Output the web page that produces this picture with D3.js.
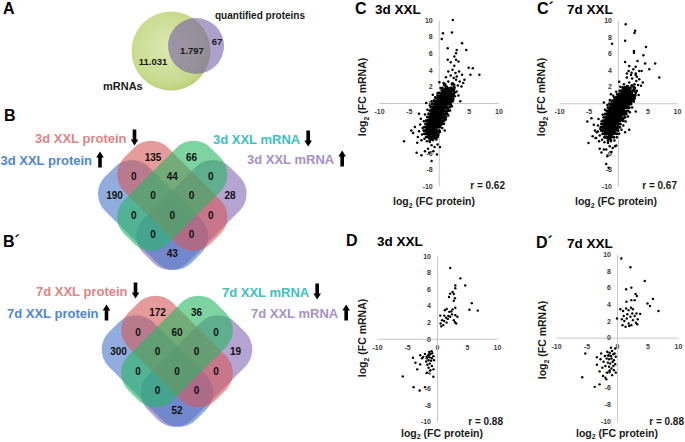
<!DOCTYPE html>
<html><head><meta charset="utf-8">
<script src="https://cdn.jsdelivr.net/npm/d3@7"></script>
<style>
html,body{margin:0;padding:0;background:#fff;}
svg{display:block;font-family:"Liberation Sans",Arial,Helvetica,sans-serif;font-weight:bold;}
</style></head><body>
<svg id="fig" width="685" height="442"></svg>
<script>
// ================= DATA =================
// Panel A
const vennA_sets = ["mRNAs", "quantified proteins"];
const vennA_values = [11031, 1797, 67]; // mRNA only, both, protein only

// Panels B / B´ : region order
const vennRegions = ["R","G","BR","RG","GP","B","BRG","RGP","P","BG","BRGP","RP","BGP","BRP","BP"];
const venn3dValues = [135, 66, 0, 44, 0, 190, 0, 0, 28, 0, 0, 0, 0, 0, 43];
const venn7dValues = [172, 36, 0, 60, 0, 300, 0, 0, 19, 0, 0, 0, 0, 0, 52];
const venn3dLabels = ["3d XXL protein", "3d XXL protein", "3d XXL mRNA", "3d XXL mRNA"]; // B(up), R(down), G(down), P(up)
const venn7dLabels = ["7d XXL protein", "7d XXL protein", "7d XXL mRNA", "7d XXL mRNA"];
const vennDirections = ["up", "down", "down", "up"];

// Scatter axes
const xTicks = [-10, -5, 0, 5, 10];
const yTicks = [-10, -8, -6, -4, -2, 0, 2, 4, 6, 8, 10];
const scatterTitles = ["3d XXL", "7d XXL", "3d XXL", "7d XXL"];
const correlations = ["0.62", "0.67", "0.88", "0.88"];

// Panel C (3d, all) points [log2 FC protein, log2 FC mRNA]
const c3Core = [[1.3,1.9],[1.7,1.7],[2.1,1.8],[1.0,2.2],[2.3,2.3],[0.9,1.5],[1.3,1.4],[1.6,1.6],[2.0,1.4],[2.4,1.5],
[0.5,1.1],[0.8,1.3],[1.2,1.2],[1.5,1.0],[1.9,1.2],[2.2,1.0],[0.2,0.8],[0.6,0.9],[1.0,0.8],[1.3,0.9],[1.7,0.8],[2.0,0.7],
[-0.1,0.6],[0.3,0.5],[0.7,0.6],[1.0,0.5],[1.4,0.6],[1.8,0.5],[2.1,0.4],[-0.4,0.2],[0.0,0.3],[0.4,0.2],[0.7,0.1],[1.1,0.3],[1.5,0.2],[1.9,0.1],
[-0.7,-0.1],[-0.3,-0.2],[0.1,-0.1],[0.5,-0.2],[0.8,-0.1],[1.2,-0.2],[1.6,-0.1],[-0.9,-0.5],[-0.5,-0.4],[-0.2,-0.5],[0.2,-0.6],[0.6,-0.4],[1.0,-0.5],[1.4,-0.6],
[-1.1,-0.9],[-0.7,-0.8],[-0.3,-0.9],[0.0,-1.0],[0.4,-0.8],[0.8,-0.9],[1.2,-1.0],[-1.3,-1.3],[-0.9,-1.2],[-0.5,-1.3],[-0.2,-1.4],[0.2,-1.2],[0.6,-1.3],[1.0,-1.4],
[-1.5,-1.7],[-1.1,-1.6],[-0.7,-1.7],[-0.4,-1.8],[0.0,-1.6],[0.4,-1.7],[0.8,-1.8],[-1.7,-2.1],[-1.3,-2.0],[-0.9,-2.1],[-0.6,-2.2],[-0.2,-2.0],[0.2,-2.1],[0.5,-2.2],
[-1.8,-2.5],[-1.4,-2.4],[-1.1,-2.5],[-0.7,-2.6],[-0.4,-2.4],[0.0,-2.5],[0.3,-2.6],[-2.0,-2.9],[-1.6,-2.8],[-1.2,-2.9],[-0.9,-3.0],[-0.5,-2.8],[-0.2,-2.9],
[-2.1,-3.3],[-1.7,-3.2],[-1.3,-3.4],[-1.0,-3.3],[-0.6,-3.2],[-0.3,-3.4],[-2.0,-3.7],[-1.6,-3.8],[-1.2,-3.7],[-0.8,-3.6],[-0.5,-3.8],[-1.7,-4.1],[-1.3,-4.2],[-0.9,-4.0],[-0.6,-4.2],
[1.1,1.6],[1.5,1.3],[0.7,1.0],[1.1,1.0],[1.7,1.0],[0.4,0.7],[0.8,0.7],[1.2,0.7],[1.6,0.7],[0.1,0.4],[0.5,0.4],[0.9,0.3],[1.3,0.4],[1.7,0.3],[-0.2,0.0],[0.2,0.1],[0.6,0.0],[1.0,0.1],[1.4,0.0],
[-0.5,-0.3],[-0.1,-0.3],[0.3,-0.3],[0.7,-0.3],[1.1,-0.4],[-0.8,-0.7],[-0.4,-0.6],[0.0,-0.7],[0.4,-0.6],[0.8,-0.7],[-1.0,-1.1],[-0.6,-1.0],[-0.2,-1.1],[0.2,-1.0],[0.6,-1.1],
[-1.2,-1.5],[-0.8,-1.4],[-0.4,-1.5],[0.0,-1.4],[0.4,-1.5],[-1.4,-1.9],[-1.0,-1.8],[-0.6,-1.9],[-0.2,-1.8],[0.2,-1.9],[-1.6,-2.3],[-1.2,-2.2],[-0.8,-2.3],[-0.4,-2.2],[0.0,-2.3],
[-1.8,-2.7],[-1.4,-2.6],[-1.0,-2.7],[-0.6,-2.6],[-0.2,-2.7],[-1.9,-3.1],[-1.5,-3.0],[-1.1,-3.1],[-0.7,-3.0],[-1.8,-3.5],[-1.4,-3.5],[-1.0,-3.5],[-0.6,-3.5]];
const c3Fringe = [[0.6,1.8],[2.6,1.9],[0.5,1.5],[2.7,1.3],[0.1,1.2],[2.5,1.1],[-0.2,0.9],[2.4,0.8],[-0.5,0.6],[2.4,0.5],[-0.8,0.3],[2.3,0.2],[-1.1,-0.1],[2.0,-0.2],
[-1.3,-0.5],[1.8,-0.5],[-1.5,-0.9],[1.6,-0.9],[-1.7,-1.3],[1.4,-1.3],[-1.9,-1.7],[1.2,-1.7],[-2.1,-2.1],[0.9,-2.1],[-2.2,-2.5],[0.7,-2.5],[-2.4,-2.9],[0.2,-2.9],
[-2.5,-3.3],[0.1,-3.3],[-2.4,-3.7],[-0.1,-3.7],[-2.1,-4.1],[-0.2,-4.1],[-1.5,-4.5],[-1.0,-4.4]];
const c3Spread = [[2.6,2.2],[2.9,2.8],[1.6,2.6],[0.8,2.4],[2.5,3.0],[3.2,2.1],[1.2,3.1],[2.0,3.3],[2.8,3.6],[1.6,3.8],[3.5,2.6],[2.3,4.0],[3.0,3.2],[0.3,1.8],[-0.2,1.2],[-0.6,0.7],
[-1.2,0.2],[-1.5,-0.3],[2.7,0.8],[3.0,1.4],[2.6,1.7],[2.4,0.3],[2.2,-0.4],[1.9,-0.9],[1.6,-1.5],[1.2,-2.0],[0.9,-2.5],[0.6,-3.0],[0.2,-3.5],[-0.1,-3.9],[-2.5,-2.2],[-2.3,-1.4],
[-1.9,-0.8],[-2.7,-3.0],[-2.8,-3.8],[-2.4,-4.3],[-2.0,-4.6],[-1.5,-4.7],[-1.0,-4.5],[-0.4,-4.4],[-0.2,-5.0],[-0.7,-5.3],[-1.2,-5.1],[-3.1,-2.6],[-3.3,-3.4],[-2.9,-4.5],[-3.5,-4.1],
[-1.8,-5.5],[-0.9,-5.8],[-0.3,-6.2],[3.8,2.0],[4.1,2.4],[3.4,3.8],[1.0,-3.3],[-3.0,-1.9],[-2.1,0.0],[-1.0,1.0],[0.1,2.5],[3.3,0.9]];
const c3Outliers = [[2.35,10.0],[0.7,8.4],[2.2,8.5],[0.5,7.7],[3.9,7.2],[1.5,6.6],[3.0,6.4],[4.6,6.4],[2.9,6.0],[2.6,5.6],[2.9,5.2],[3.3,5.0],[1.5,5.2],[2.0,4.9],[5.0,4.25],[5.7,4.2],
[5.3,3.4],[6.8,3.4],[3.9,3.4],[4.3,2.8],[2.6,4.5],[-5.8,-4.6],[-3.7,-6.0],[-2.9,-6.3],[-2.3,-5.8],[-1.6,-6.0],[-4.3,-3.6],[-4.0,-2.9],[-4.6,-3.3],[-3.6,-4.8],[-1.2,-7.0],[0.2,-5.3],
[1.8,0.0],[3.6,0.2],[-3.3,-1.3]];

// Panel C´ (7d, all)
const c7Core = [[1.2,1.9],[1.6,2.0],[2.0,1.8],[2.4,2.1],[0.7,1.5],[1.1,1.6],[1.5,1.4],[1.9,1.5],[2.3,1.4],[2.7,1.6],[0.3,1.1],[0.7,1.2],[1.1,1.0],[1.5,1.1],[1.9,1.0],[2.3,1.1],[2.6,0.9],
[-0.2,0.7],[0.2,0.8],[0.6,0.6],[1.0,0.7],[1.4,0.8],[1.8,0.6],[2.2,0.7],[2.5,0.5],[-0.6,0.3],[-0.2,0.4],[0.2,0.2],[0.6,0.3],[1.0,0.4],[1.4,0.2],[1.8,0.3],[2.2,0.2],
[-1.0,-0.1],[-0.6,0.0],[-0.2,-0.2],[0.2,-0.1],[0.6,0.0],[1.0,-0.2],[1.4,-0.1],[1.8,-0.1],[-1.3,-0.5],[-0.9,-0.4],[-0.5,-0.6],[-0.1,-0.5],[0.3,-0.4],[0.7,-0.6],[1.1,-0.5],[1.5,-0.5],
[-1.5,-0.9],[-1.1,-1.0],[-0.7,-0.8],[-0.3,-0.9],[0.1,-1.0],[0.5,-0.8],[0.9,-0.9],[1.3,-1.0],[-1.8,-1.3],[-1.4,-1.2],[-1.0,-1.4],[-0.6,-1.3],[-0.2,-1.2],[0.2,-1.4],[0.6,-1.3],[1.0,-1.3],
[-2.0,-1.7],[-1.6,-1.8],[-1.2,-1.6],[-0.8,-1.7],[-0.4,-1.8],[0.0,-1.6],[0.4,-1.7],[0.8,-1.8],[-2.2,-2.1],[-1.8,-2.0],[-1.4,-2.2],[-1.0,-2.1],[-0.6,-2.0],[-0.2,-2.2],[0.2,-2.1],[0.5,-2.0],
[-2.4,-2.5],[-2.0,-2.6],[-1.6,-2.4],[-1.2,-2.5],[-0.8,-2.6],[-0.4,-2.4],[0.0,-2.5],[-2.5,-2.9],[-2.1,-2.8],[-1.7,-3.0],[-1.3,-2.9],[-0.9,-2.8],[-0.5,-3.0],[-0.1,-2.9],
[-2.4,-3.3],[-2.0,-3.4],[-1.6,-3.2],[-1.2,-3.3],[-0.8,-3.4],[-0.4,-3.2],[-2.2,-3.7],[-1.8,-3.6],[-1.4,-3.8],[-1.0,-3.7],[-0.6,-3.6],[-1.9,-4.1],[-1.5,-4.2],[-1.1,-4.0],
[1.4,1.7],[1.8,1.7],[0.9,1.3],[1.3,1.3],[1.7,1.3],[2.1,1.3],[0.5,0.9],[0.9,0.9],[1.3,0.9],[1.7,0.9],[2.1,0.9],[0.0,0.5],[0.4,0.5],[0.8,0.5],[1.2,0.5],[1.6,0.5],[2.0,0.4],
[-0.4,0.1],[0.0,0.1],[0.4,0.1],[0.8,0.1],[1.2,0.1],[1.6,0.1],[-0.8,-0.3],[-0.4,-0.3],[0.0,-0.3],[0.4,-0.3],[0.8,-0.3],[1.2,-0.3],[-1.1,-0.7],[-0.7,-0.7],[-0.3,-0.7],[0.1,-0.7],[0.5,-0.7],[0.9,-0.7],
[-1.3,-1.1],[-0.9,-1.1],[-0.5,-1.1],[-0.1,-1.1],[0.3,-1.1],[0.7,-1.1],[-1.6,-1.5],[-1.2,-1.5],[-0.8,-1.5],[-0.4,-1.5],[0.0,-1.5],[0.4,-1.5],[-1.8,-1.9],[-1.4,-1.9],[-1.0,-1.9],[-0.6,-1.9],[-0.2,-1.9],[0.2,-1.9],
[-2.0,-2.3],[-1.6,-2.3],[-1.2,-2.3],[-0.8,-2.3],[-0.4,-2.3],[-2.2,-2.7],[-1.8,-2.7],[-1.4,-2.7],[-1.0,-2.7],[-0.6,-2.7],[-2.2,-3.1],[-1.8,-3.1],[-1.4,-3.1],[-1.0,-3.1],[-0.6,-3.1],[-2.0,-3.5],[-1.6,-3.5],[-1.2,-3.5]];
const c7Fringe = [[0.8,1.9],[2.8,1.9],[0.3,1.5],[3.0,1.3],[-0.1,1.1],[2.9,1.0],[-0.6,0.7],[2.8,0.6],[-1.0,0.3],[2.6,0.3],[-1.4,-0.1],[2.2,-0.1],[-1.7,-0.5],[1.9,-0.5],
[-1.9,-0.9],[1.7,-0.9],[-2.2,-1.3],[1.4,-1.3],[-2.4,-1.7],[1.2,-1.7],[-2.6,-2.1],[0.9,-2.1],[-2.8,-2.5],[0.4,-2.5],[-2.9,-2.9],[0.3,-2.9],[-2.8,-3.3],[0.0,-3.3],
[-2.6,-3.7],[-0.2,-3.7],[-2.3,-4.1],[-0.7,-4.1],[-1.7,-4.5],[-1.2,-4.4]];
const c7Spread = [[2.8,2.3],[3.1,2.7],[1.9,2.5],[1.0,2.3],[2.4,3.0],[3.4,2.2],[1.5,3.1],[2.2,3.4],[3.0,3.6],[1.8,3.9],[3.6,2.9],[2.6,4.1],[3.2,3.2],[0.4,2.0],[-0.3,1.4],[-0.8,0.9],
[-1.4,0.4],[-1.8,-0.2],[2.9,0.9],[3.2,1.5],[2.8,1.8],[2.7,0.2],[2.4,-0.5],[2.0,-1.1],[1.7,-1.6],[1.3,-2.2],[0.9,-2.7],[0.6,-3.2],[0.2,-3.7],[-0.2,-4.1],[-2.8,-2.2],[-2.6,-1.4],
[-2.2,-0.8],[-3.0,-3.1],[-3.1,-3.9],[-2.7,-4.4],[-2.3,-4.7],[-1.7,-4.8],[-1.2,-4.6],[-0.6,-4.5],[-0.3,-5.1],[-0.9,-5.4],[-1.4,-5.2],[-3.4,-2.7],[-3.6,-3.5],[-3.2,-4.6],[-3.8,-4.2],
[-2.0,-5.6],[-1.1,-5.9],[3.9,2.1],[4.2,2.5],[3.6,3.9],[1.2,-3.5],[-3.3,-1.9],[-2.4,0.1],[-1.2,1.1],[0.2,2.6],[3.5,1.0],[-4.1,-2.6],[-3.9,-3.3]];
const c7Outliers = [[1.3,9.55],[2.9,8.75],[2.8,8.5],[1.2,7.55],[-1.0,7.2],[4.75,6.8],[2.7,6.3],[2.7,6.1],[4.3,5.8],[1.2,5.0],[3.3,5.1],[6.3,4.8],[4.6,4.8],[1.9,4.5],[3.0,4.4],[5.3,4.1],
[4.0,3.9],[7.0,3.1],[1.5,3.6],[2.3,3.7],[3.0,3.4],[-5.0,-4.8],[-2.8,-5.95],[-2.4,-5.6],[-3.1,-5.5],[-2.0,-7.35],[-1.6,-7.8],[-0.5,-5.2],[-3.7,-4.2],[-3.4,-3.4],[-5.2,-2.2],[-4.5,-1.8],
[1.9,-3.2],[3.0,-1.0],[-1.8,-6.4],[-4.3,-4.0]];

// Panel D (3d, regulated)
const d3Points = [[2.2,8.55],[3.9,7.3],[4.7,6.45],[3.05,6.45],[3.05,6.1],[2.6,5.65],[2.2,5.45],[2.8,5.4],[2.0,5.05],[3.0,4.9],[2.8,4.6],[5.8,4.3],[5.4,3.5],[6.8,3.4],
[3.05,3.75],[2.6,3.55],[1.6,3.6],[1.3,3.45],[2.05,3.25],[2.5,2.95],[3.05,2.85],[1.9,2.75],[1.2,2.8],[1.5,2.55],[2.2,2.65],[0.85,2.25],[1.2,2.15],[1.6,1.95],[0.6,1.85],[1.05,1.65],
[0.7,1.5],[2.8,2.25],[3.2,1.85],[3.0,2.0],[3.4,2.65],[0.55,2.8],[2.4,3.3],[1.8,2.4],
[-0.8,-1.75],[-1.1,-1.85],[-1.4,-1.95],[-1.6,-2.1],[-0.6,-2.1],[-1.2,-2.25],[-1.7,-2.35],[-0.85,-2.35],[-1.4,-2.6],[-1.0,-2.65],[-1.8,-2.75],[-1.2,-3.0],[-1.6,-3.15],[-0.85,-3.3],
[-1.4,-3.5],[-1.1,-3.8],[-1.7,-4.1],[-0.6,-3.7],[-2.0,-1.85],[-2.3,-2.2],[-4.0,-2.3],[-2.8,-2.0],[-2.5,-2.35],[-3.6,-2.9],[-2.8,-3.1],[-3.3,-3.7],[-5.7,-4.55],[-3.9,-5.85],
[-2.9,-6.25],[-2.0,-5.85],[-0.6,-4.6],[-0.9,-1.5],[-0.5,-2.6],[-1.3,-1.6]];

// Panel D´ (7d, regulated)
const d7Points = [[0.7,9.5],[2.2,8.45],[4.55,6.8],[1.5,5.8],[2.35,6.0],[3.05,5.25],[3.25,5.0],[2.35,4.5],[1.55,4.3],[2.9,4.5],[5.0,4.1],[5.4,3.8],[5.9,4.65],[6.8,3.2],[0.55,3.4],
[1.0,3.2],[1.5,3.5],[1.9,3.3],[2.3,3.6],[2.6,3.4],[3.2,2.9],[3.8,2.85],[0.0,2.3],[0.8,2.2],[1.2,2.0],[1.6,2.3],[1.9,1.7],[2.2,2.5],[2.6,2.1],[2.9,2.6],[3.1,1.8],[3.4,2.2],[2.0,1.4],
[1.4,1.3],[0.9,1.5],[2.35,1.5],[1.7,2.8],[2.5,2.9],[1.1,2.6],[3.3,1.6],
[-5.2,-1.9],[-3.3,-2.35],[-2.6,-1.9],[-3.3,-3.25],[-2.85,-4.05],[-5.7,-4.75],[-3.65,-5.9],[-2.85,-5.6],[-2.3,-4.6],[-1.75,-5.0],[-1.2,-4.0],[-0.6,-3.4],
[-1.6,-1.7],[-1.2,-1.8],[-0.8,-1.6],[-0.4,-1.9],[-1.4,-2.1],[-1.0,-2.2],[-0.6,-2.0],[-0.2,-2.3],[-1.7,-2.5],[-1.3,-2.6],[-0.9,-2.5],[-0.5,-2.7],[-1.5,-3.0],[-1.1,-3.1],
[-0.7,-2.9],[-0.3,-3.2],[-1.9,-3.4],[-1.3,-3.5],[-0.9,-3.7],[-0.5,-3.9],[-2.0,-2.2],[-2.2,-2.9],[-1.6,-4.2],[-0.8,-4.5],[-2.4,-3.6],[-0.3,-1.3],[-1.0,-1.2],[-2.7,-2.6],[-1.9,-4.8],[-0.2,-4.2]];

// ================= DRAWING =================
const svg = d3.select("#fig");
const defs = svg.append("defs");
const fmtDE = d3.formatLocale({decimal: ",", thousands: ".", grouping: [3], currency: ["", ""]}).format(",");

// ---- Panel letters
const letters = [["A",3,14],["B",4,121],["B´",3,247],["C",355,14],["C´",537,14],["D",346,246],["D´",536,248]];
svg.selectAll("text.letter").data(letters).join("text").attr("class","letter")
  .attr("x", d => d[1]).attr("y", d => d[2])
  .attr("font-size", 16).attr("fill", "#000").text(d => d[0]);

// ---- Panel A
const gA = svg.append("g");
const gradG = defs.append("radialGradient").attr("id","gradG").attr("cx","45%").attr("cy","45%").attr("r","60%");
gradG.append("stop").attr("offset","0%").attr("stop-color","#dce8b2");
gradG.append("stop").attr("offset","75%").attr("stop-color","#c8db8e");
gradG.append("stop").attr("offset","100%").attr("stop-color","#b7cd72");
const circlesA = [
  {cx:171, cy:51, r:39.5, fill:"url(#gradG)", op:1},
  {cx:196, cy:46, r:28, fill:"rgb(108,82,162)", op:0.55}
];
gA.selectAll("circle").data(circlesA).join("circle")
  .attr("cx", d=>d.cx).attr("cy", d=>d.cy).attr("r", d=>d.r)
  .attr("fill", d=>d.fill).attr("fill-opacity", d=>d.op);
const textsA = [
  {t: fmtDE(vennA_values[0]), x:153, y:62, s:9.5, a:"middle"},
  {t: fmtDE(vennA_values[1]), x:192, y:51, s:9.5, a:"middle"},
  {t: fmtDE(vennA_values[2]), x:217, y:42, s:9.5, a:"middle"},
  {t: vennA_sets[0], x:103, y:90, s:11, a:"start"},
  {t: vennA_sets[1], x:215, y:18.5, s:10, a:"start"}
];
gA.selectAll("text").data(textsA).join("text")
  .attr("x", d=>d.x).attr("y", d=>d.y).attr("dy", d=> d.a==="middle" ? "0.35em" : null)
  .attr("text-anchor", d=>d.a).attr("font-size", d=>d.s).attr("fill","#1a1a1a").text(d=>d.t);

// ---- Panels B / B´
const regionGrid = {R:[-1,-3],G:[1,-3],BR:[-2,-2],RG:[0,-2],GP:[2,-2],B:[-3,-1],BRG:[-1,-1],RGP:[1,-1],P:[3,-1],BG:[-2,0],BRGP:[0,0],RP:[2,0],BGP:[-1,1],BRP:[1,1],BP:[0,2]};
const setColors = {B:"rgb(72,118,200)", R:"rgb(214,88,88)", G:"rgb(38,184,98)", P:"rgb(132,102,178)"};
const labelColors = ["#4d86d8", "#e38383", "#3dbfbf", "#a591c9"];

function arrowPath(dir) {
  if (dir === "up") return "M-1.8,2.5 L-1.8,-7.5 L-3.8,-7.5 L0,-13.5 L3.8,-7.5 L1.8,-7.5 L1.8,2.5 Z";
  return "M-1.8,-13.5 L1.8,-13.5 L1.8,-3.5 L3.8,-3.5 L0,2.5 L-3.8,-3.5 L-1.8,-3.5 Z";
}

function drawVenn4(cx, cy, s, values, labels, labelPos) {
  const g = svg.append("g");
  const k = s / 19.25;
  const L = 122 * k, W = 62 * k, rr = 24 * k;
  const shapes = [
    {key:"P", dx: s, dy: 0, rot: -45},
    {key:"B", dx: -s, dy: 0, rot: 45},
    {key:"R", dx: 0, dy: -s, rot: 45},
    {key:"G", dx: 0, dy: -s, rot: -45}
  ];
  g.selectAll("rect").data(shapes).join("rect")
    .attr("x", -L/2).attr("y", -W/2).attr("width", L).attr("height", W).attr("rx", rr).attr("ry", rr)
    .attr("transform", d => `translate(${cx + d.dx},${cy + d.dy}) rotate(${d.rot})`)
    .attr("fill", d => setColors[d.key]).attr("fill-opacity", 0.6);
  g.selectAll("text.num").data(vennRegions.map((r,i)=>({r, v: values[i]}))).join("text").attr("class","num")
    .attr("x", d => cx + regionGrid[d.r][0]*s).attr("y", d => cy + regionGrid[d.r][1]*s).attr("dy","0.35em")
    .attr("text-anchor","middle").attr("font-size",10).attr("fill","#111").text(d => d.v);
  labels.forEach((lab, i) => {
    const p = labelPos[i];
    const t = g.append("text").attr("x", p[0]).attr("y", p[1]).attr("font-size", 13)
      .attr("fill", labelColors[i]).text(lab);
    const w = t.node().getComputedTextLength();
    g.append("path").attr("d", arrowPath(vennDirections[i]))
      .attr("transform", `translate(${p[0] + w + 8},${p[1]})`).attr("fill", "#000");
  });
}
drawVenn4(172.3, 215, 19.25, venn3dValues, venn3dLabels, [[0.5,165],[35,143],[213,144],[247,164]]);
drawVenn4(177, 371, 19.5, venn7dValues, venn7dLabels, [[7,318],[36,296],[222,297],[251,318]]);

// ---- Scatter panels
// layers: [points, marker radius] – dense core drawn with overlapping larger markers
const panels = [
  {layers: [[c3Core,1.9],[c3Fringe,1.5],[c3Spread,1.25],[c3Outliers,1.25]], xr:[379,498.5], yr:[186,20], xLab:[434,205], yLab:[366,97], rEnd:[505,189], title:[375,13.5], ti:0},
  {layers: [[c7Core,1.9],[c7Fringe,1.5],[c7Spread,1.25],[c7Outliers,1.25]], xr:[559,677], yr:[186,20.5], xLab:[616,205], yLab:[545,97], rEnd:[677,189], title:[567,13.5], ti:1},
  {layers: [[d3Points,1.2]], xr:[377,497], yr:[421.5,256], xLab:[442,436.5], yLab:[366,338], rEnd:[503,424.5], title:[377,246], ti:2},
  {layers: [[d7Points,1.2]], xr:[556,678], yr:[421,254.3], xLab:[617,436.5], yLab:[546,340], rEnd:[684,424.5], title:[567,248], ti:3}
];
panels.forEach(P => {
  const g = svg.append("g");
  const x = d3.scaleLinear().domain([-10,10]).range(P.xr);
  const y = d3.scaleLinear().domain([-10,10]).range(P.yr);
  const xa = g.append("g").attr("transform", `translate(0,${y(0)})`)
    .call(d3.axisBottom(x).tickValues(xTicks).tickSize(0).tickPadding(6).tickFormat(d3.format("d")));
  const ya = g.append("g").attr("transform", `translate(${x(0)},0)`)
    .call(d3.axisLeft(y).tickValues(yTicks).tickSize(0).tickPadding(6).tickFormat(d3.format("d")));
  [xa, ya].forEach(a => {
    a.select(".domain").attr("stroke", "#c8c8c8").attr("stroke-width", 1);
    a.selectAll("text").attr("font-size", 7).attr("font-weight","bold").attr("fill", "#3a3a3a")
      .attr("font-family", '"Liberation Sans",Arial,sans-serif').text(d => String(d).replace("\u2212", "-"));
  });
  P.layers.forEach(([pts, r]) => {
    g.append("g").selectAll("circle").data(pts).join("circle")
      .attr("cx", d => x(d[0])).attr("cy", d => y(d[1])).attr("r", r).attr("fill", "#000");
  });
  g.append("text").attr("x", P.title[0]).attr("y", P.title[1]).attr("font-size", 13.5).attr("fill","#000").text(scatterTitles[P.ti]);
  g.append("text").attr("x", P.rEnd[0]).attr("y", P.rEnd[1]).attr("text-anchor","end").attr("font-size",10).attr("fill","#1a1a1a")
    .text("r = " + correlations[P.ti]);
  const xt = g.append("text").attr("x", P.xLab[0]).attr("y", P.xLab[1]).attr("text-anchor","middle").attr("font-size",10.5).attr("fill","#1a1a1a");
  xt.append("tspan").text("log");
  xt.append("tspan").attr("font-size",7).attr("dy",2.5).text("2");
  xt.append("tspan").attr("dy",-2.5).text(" (FC protein)");
  const yt = g.append("text").attr("transform", `translate(${P.yLab[0]},${P.yLab[1]}) rotate(-90)`).attr("text-anchor","middle").attr("font-size",10.5).attr("fill","#1a1a1a");
  yt.append("tspan").text("log");
  yt.append("tspan").attr("font-size",7).attr("dy",2.5).text("2");
  yt.append("tspan").attr("dy",-2.5).text(" (FC mRNA)");
});
</script>
</body></html>
